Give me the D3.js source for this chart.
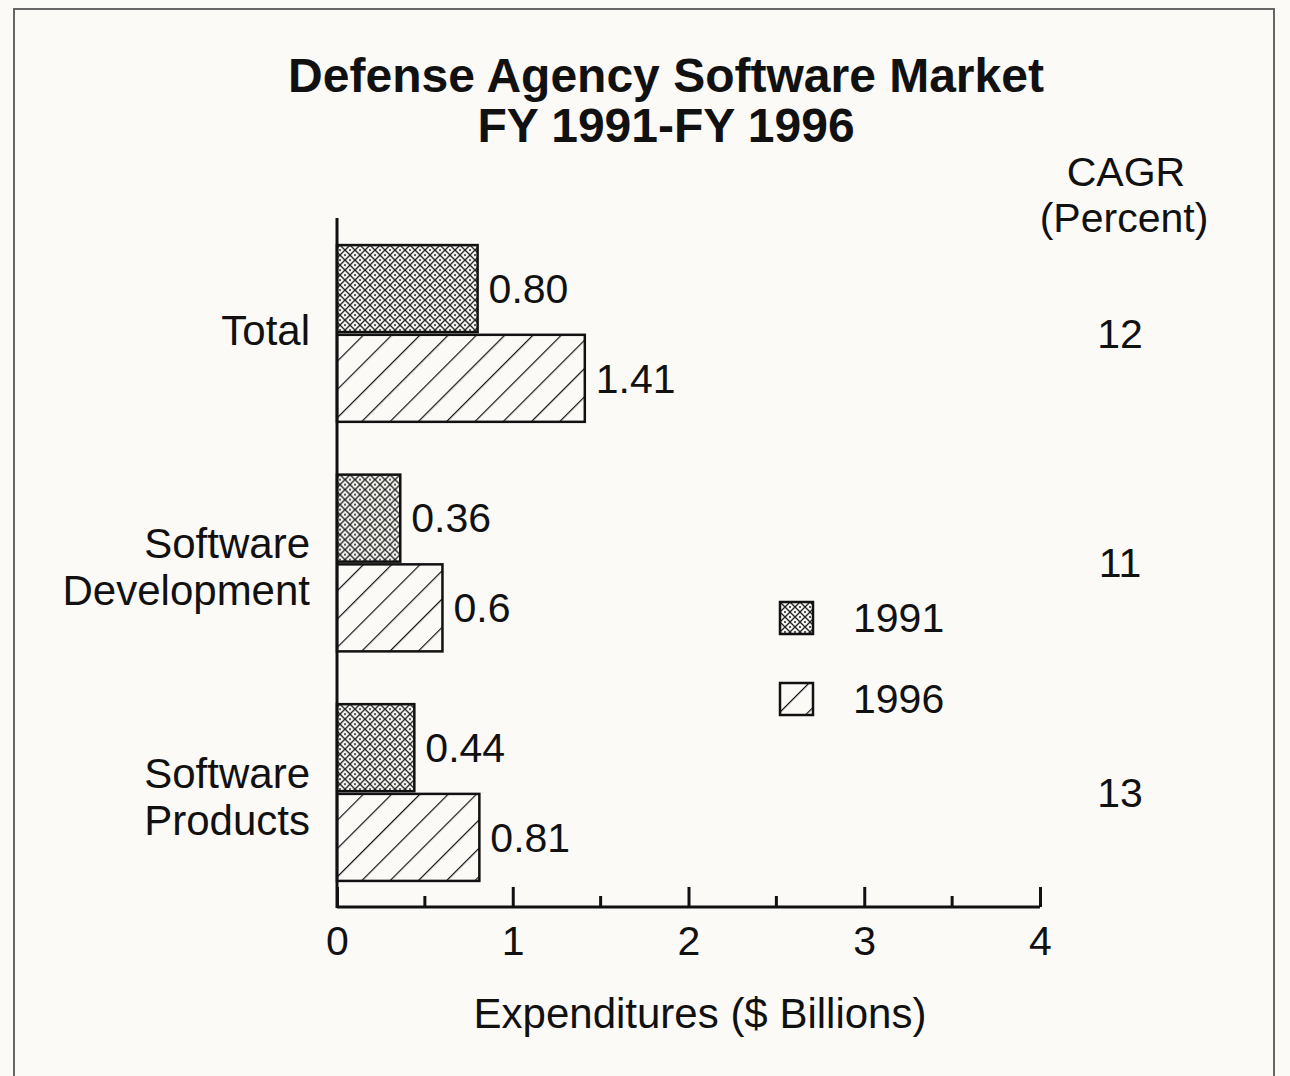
<!DOCTYPE html>
<html>
<head>
<meta charset="utf-8">
<script src="https://cdn.jsdelivr.net/npm/d3@7"></script>
<style>
  body { margin: 0; background: #fbfaf7; }
  text { font-family: "Liberation Sans", Arial, Helvetica, sans-serif; fill: #111; }
</style>
</head>
<body>
<div id="chart"></div>
<script>
var categories = ['Total', 'Software Development', 'Software Products'];
var catLines = [['Total'], ['Software', 'Development'], ['Software', 'Products']];
var years = ['1991', '1996'];
var values1991 = [0.80, 0.36, 0.44];
var values1996 = [1.41, 0.6, 0.81];
var labels1991 = ['0.80', '0.36', '0.44'];
var labels1996 = ['1.41', '0.6', '0.81'];
var cagr = ['12', '11', '13'];
var xTicks = [0, 1, 2, 3, 4];
var xMinor = [0.5, 1.5, 2.5, 3.5];

var width = 1290, height = 1076;

var svg = d3.select('#chart').append('svg')
  .attr('width', width)
  .attr('height', height);

var defs = svg.append('defs');

// cross hatch with stipple for 1991
var p1 = defs.append('pattern')
  .attr('id', 'hatch1991')
  .attr('patternUnits', 'userSpaceOnUse')
  .attr('width', 10).attr('height', 10);
p1.append('rect').attr('width', 10).attr('height', 10).attr('fill', '#f4f4f0');
p1.append('path').attr('d', 'M0,0 L10,10 M10,0 L0,10')
  .attr('stroke', '#222').attr('stroke-width', 1.3);
p1.append('circle').attr('cx', 5).attr('cy', 0).attr('r', 1).attr('fill', '#222');
p1.append('circle').attr('cx', 0).attr('cy', 5).attr('r', 1).attr('fill', '#222');
p1.append('circle').attr('cx', 10).attr('cy', 5).attr('r', 1).attr('fill', '#222');
p1.append('circle').attr('cx', 5).attr('cy', 10).attr('r', 1).attr('fill', '#222');

// single diagonal for 1996
var p2 = defs.append('pattern')
  .attr('id', 'hatch1996')
  .attr('patternUnits', 'userSpaceOnUse')
  .attr('width', 20).attr('height', 20)
  .attr('patternTransform', 'rotate(45)');
p2.append('rect').attr('width', 20).attr('height', 20).attr('fill', '#fbfaf7');
p2.append('line').attr('x1', 0).attr('y1', 0).attr('x2', 0).attr('y2', 20)
  .attr('stroke', '#111').attr('stroke-width', 2.4);

var fills = { '1991': 'url(#hatch1991)', '1996': 'url(#hatch1996)' };

// frame
svg.append('path')
  .attr('d', 'M14,1076 L14,9 L1274,9 L1274,1076')
  .attr('fill', 'none')
  .attr('stroke', '#666')
  .attr('stroke-width', 2);

// title
svg.append('text')
  .attr('x', 666).attr('y', 92)
  .attr('text-anchor', 'middle')
  .style('font-size', '48px').style('font-weight', 'bold')
  .text('Defense Agency Software Market');
svg.append('text')
  .attr('x', 666).attr('y', 142)
  .attr('text-anchor', 'middle')
  .style('font-size', '48px').style('font-weight', 'bold')
  .text('FY 1991-FY 1996');

var xScale = d3.scaleLinear()
  .domain([0, 4])
  .range([337, 1040]);

var yScale = d3.scaleBand()
  .domain(categories)
  .range([218, 908])
  .paddingInner(0.23)
  .paddingOuter(0.118);

var ySub = d3.scaleBand()
  .domain(years)
  .range([0, yScale.bandwidth()])
  .paddingInner(0.03);

var rows = categories.map(function(c, i) {
  return { cat: c, lines: catLines[i], cagr: cagr[i],
    bars: [
      { year: '1991', value: values1991[i], label: labels1991[i] },
      { year: '1996', value: values1996[i], label: labels1996[i] }
    ] };
});

var groups = svg.selectAll('.group')
  .data(rows)
  .enter()
  .append('g')
  .attr('class', 'group')
  .attr('transform', function(d) { return 'translate(0,' + yScale(d.cat) + ')'; });

groups.selectAll('rect')
  .data(function(d) { return d.bars; })
  .enter()
  .append('rect')
  .attr('x', xScale(0))
  .attr('y', function(d) { return ySub(d.year); })
  .attr('width', function(d) { return xScale(d.value) - xScale(0); })
  .attr('height', ySub.bandwidth())
  .attr('fill', function(d) { return fills[d.year]; })
  .attr('stroke', '#111')
  .attr('stroke-width', 2.5);

groups.selectAll('.val')
  .data(function(d) { return d.bars; })
  .enter()
  .append('text')
  .attr('class', 'val')
  .attr('x', function(d) { return xScale(d.value) + 11; })
  .attr('y', function(d) { return ySub(d.year) + ySub.bandwidth() / 2; })
  .attr('dy', '0.35em')
  .style('font-size', '41px')
  .text(function(d) { return d.label; });

// category labels
groups.each(function(d) {
  var g = d3.select(this);
  var mid = yScale.bandwidth() / 2;
  var lh = 47;
  var start = mid - (d.lines.length - 1) * lh / 2 + (d.lines.length > 1 ? 4 : -3);
  d.lines.forEach(function(line, j) {
    g.append('text')
      .attr('x', 310)
      .attr('y', start + j * lh)
      .attr('dy', '0.35em')
      .attr('text-anchor', 'end')
      .style('font-size', '42px')
      .text(line);
  });
  g.append('text')
    .attr('x', 1120)
    .attr('y', mid)
    .attr('dy', '0.35em')
    .attr('text-anchor', 'middle')
    .style('font-size', '41px')
    .text(d.cagr);
});

// CAGR header
svg.append('text').attr('x', 1126).attr('y', 186)
  .attr('text-anchor', 'middle').style('font-size', '41px').text('CAGR');
svg.append('text').attr('x', 1124).attr('y', 232)
  .attr('text-anchor', 'middle').style('font-size', '41px').text('(Percent)');

// y axis line
svg.append('line')
  .attr('x1', xScale(0)).attr('x2', xScale(0))
  .attr('y1', 218).attr('y2', 908)
  .attr('stroke', '#111').attr('stroke-width', 3);

// x axis
var xAxis = d3.axisBottom(xScale)
  .tickValues(xTicks)
  .tickSize(-20)
  .tickPadding(19)
  .tickFormat(d3.format('d'));

var xAxisGroup = svg.append('g')
  .attr('transform', 'translate(0,907)')
  .call(xAxis);
xAxisGroup.select('.domain').attr('stroke', '#111').attr('stroke-width', 3)
  .attr('d', 'M' + xScale(0) + ',0H' + xScale(4));
xAxisGroup.selectAll('.tick line').attr('stroke', '#111').attr('stroke-width', 3);
xAxisGroup.selectAll('.tick text')
  .style('font-size', '41px')
  .style('font-family', '"Liberation Sans", Arial, sans-serif')
  .attr('fill', '#111');

svg.append('g')
  .attr('transform', 'translate(0,907)')
  .selectAll('line')
  .data(xMinor)
  .enter()
  .append('line')
  .attr('x1', function(d) { return xScale(d); })
  .attr('x2', function(d) { return xScale(d); })
  .attr('y1', 0).attr('y2', -11)
  .attr('stroke', '#111').attr('stroke-width', 3);

svg.append('text')
  .attr('x', 700).attr('y', 1028)
  .attr('text-anchor', 'middle')
  .style('font-size', '42px')
  .text('Expenditures ($ Billions)');

// legend
var legend = svg.append('g').attr('transform', 'translate(780,602)');
var legendItems = legend.selectAll('g')
  .data(years)
  .enter()
  .append('g')
  .attr('transform', function(d, i) { return 'translate(0,' + (i * 81) + ')'; });
legendItems.append('rect')
  .attr('width', 33).attr('height', 32)
  .attr('fill', function(d) { return fills[d]; })
  .attr('stroke', '#111').attr('stroke-width', 2.5);
legendItems.append('text')
  .attr('x', 73).attr('y', 16)
  .attr('dy', '0.35em')
  .style('font-size', '41px')
  .text(function(d) { return d; });
</script>
</body>
</html>
